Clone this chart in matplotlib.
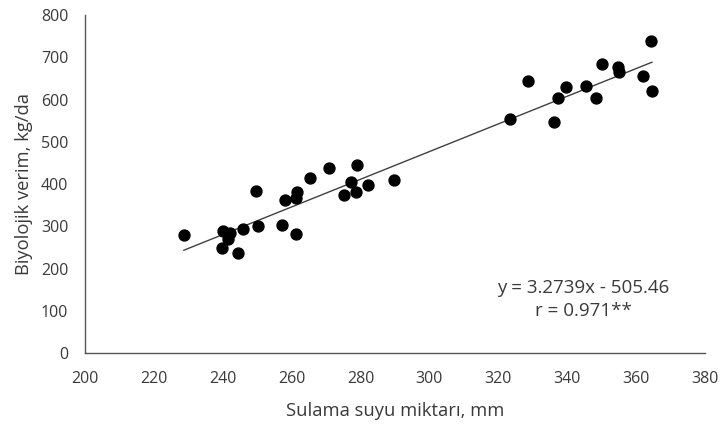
import matplotlib.pyplot as plt
import numpy as np

plt.rcParams['font.family'] = ['Open Sans', 'DejaVu Sans']

# irrigation amount (mm) and biological yield (kg/da)
sulama = [228.7, 240.0, 242.1, 241.6, 239.8, 244.3, 245.8, 249.6, 250.2, 257.3,
          258.0, 261.3, 261.6, 261.3, 265.4, 270.7, 275.3, 277.2, 278.7, 278.9,
          282.3, 289.7, 323.4, 328.5, 336.3, 337.4, 339.6, 345.5, 348.4, 350.2,
          354.8, 355.1, 362.0, 364.2, 364.6]
verim = [279, 289, 283, 269, 249, 237, 293, 384, 300, 303,
         363, 366, 380, 282, 414, 439, 375, 405, 380, 445,
         397, 410, 554, 644, 547, 604, 629, 632, 604, 683,
         678, 666, 656, 739, 620]

slope, intercept = 3.2739, -505.46
x_ticks = list(range(200, 381, 20))
y_ticks = list(range(0, 801, 100))

text_col = '#3a3a3a'

fig = plt.figure(figsize=(7.23, 4.25), dpi=100)
ax = fig.add_axes([0.1176, 0.1694, 0.8574, 0.7953])

ax.scatter(sulama, verim, s=62, color='black', zorder=3)

xl = np.array([min(sulama), max(sulama)])
ax.plot(xl, slope * xl + intercept, color='#404040', lw=1.0, zorder=2)

ax.set_xlim(200, 380)
ax.set_ylim(0, 800)
ax.set_xticks(x_ticks)
ax.set_yticks(y_ticks)
ax.tick_params(length=0, labelsize=11.5, colors=text_col)
ax.tick_params(axis='x', pad=13)
ax.tick_params(axis='y', pad=12)

for s in ['top', 'right']:
    ax.spines[s].set_visible(False)
for s in ['left', 'bottom']:
    ax.spines[s].set_color('#555555')
    ax.spines[s].set_linewidth(1.0)

ax.set_xlabel('Sulama suyu miktarı, mm', fontsize=13.2, color=text_col, labelpad=11)
ax.set_ylabel('Biyolojik verim, kg/da', fontsize=13.2, color=text_col, labelpad=6)

ax.text(344.6, 155, 'y = 3.2739x - 505.46', ha='center', va='center',
        fontsize=13.5, color=text_col)
ax.text(344.6, 100, 'r = 0.971**', ha='center', va='center',
        fontsize=13.5, color=text_col)

fig.savefig('out.png', dpi=100)
